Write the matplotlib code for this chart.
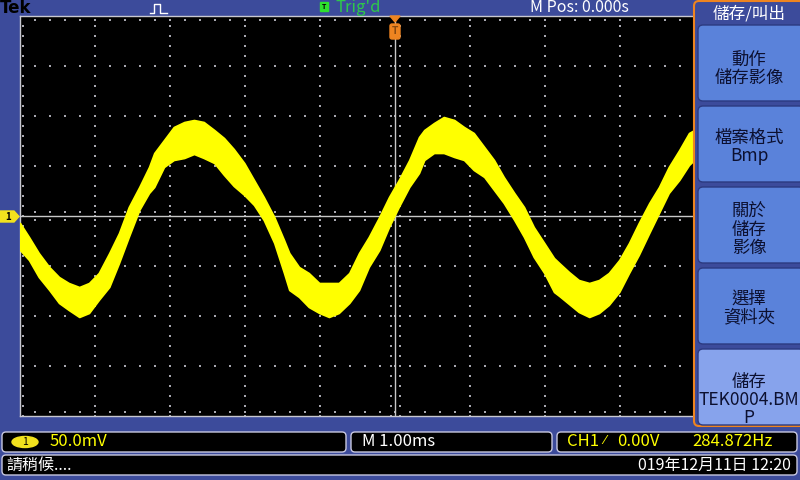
import matplotlib
matplotlib.use("Agg")
import matplotlib.pyplot as plt
from matplotlib.patches import FancyBboxPatch, Polygon, Rectangle, Ellipse
import numpy as np

plt.rcParams['font.family'] = ['Noto Sans CJK TC', 'DejaVu Sans']

# trace band: time (ms) and upper/lower edge (mV)
t_ms = [-5.0, -4.88, -4.75, -4.61, -4.48, -4.35, -4.21, -4.08, -3.95, -3.81,
        -3.68, -3.55, -3.41, -3.28, -3.21, -3.08, -2.95, -2.81, -2.68, -2.55,
        -2.41, -2.28, -2.15, -2.01, -1.88, -1.75, -1.61, -1.48, -1.41, -1.28,
        -1.15, -1.01, -0.88, -0.75, -0.61, -0.48, -0.35, -0.21, -0.08, 0.05,
        0.19, 0.32, 0.39, 0.52, 0.65, 0.79, 0.92, 1.05, 1.19, 1.32,
        1.45, 1.59, 1.72, 1.85, 1.99, 2.12, 2.19, 2.32, 2.45, 2.59,
        2.72, 2.85, 2.99, 3.12, 3.25, 3.39, 3.52, 3.65, 3.79, 3.92, 3.99]
v_top = [-7, -21, -37, -51, -61, -67, -71, -67, -57, -37,
         -17, 9, 29, 49, 63, 76, 89, 94, 96, 94,
         86, 78, 67, 53, 36, 19, -1, -24, -37, -51,
         -57, -67, -67, -67, -57, -37, -21, -1, 19, 36,
         56, 79, 86, 93, 99, 96, 89, 83, 69, 56,
         39, 23, 9, -11, -27, -42, -47, -56, -64, -67,
         -64, -57, -44, -27, -7, 13, 29, 49, 66, 83, 86]
v_bot = [-34, -44, -61, -74, -87, -94, -101, -97, -84, -71,
         -47, -21, 6, 23, 29, 49, 56, 58, 62, 58,
         53, 41, 30, 21, 11, -4, -27, -57, -74, -81,
         -91, -97, -101, -97, -87, -74, -51, -34, -11, 9,
         29, 43, 56, 63, 63, 59, 56, 46, 39, 26,
         13, -4, -21, -41, -57, -76, -80, -88, -96, -101,
         -97, -89, -76, -57, -39, -17, 3, 23, 36, 51, 56]

menu_title = "儲存/叫出"
menu_items = ["動作\n儲存影像", "檔案格式\nBmp", "關於\n儲存\n影像",
              "選擇\n資料夾", "儲存\nTEK0004.BM\nP"]

BG = '#3c4b9b'
GRID = '#a8a8b0'
YEL = '#ffff00'
ORANGE = '#ee8420'

fig = plt.figure(figsize=(8, 4.8), dpi=100, facecolor=BG)

# --- scope graticule: 10 x 8 div, 1 ms/div, 50 mV/div
ax = fig.add_axes([20 / 800, 64 / 480, 750 / 800, 400 / 480])
ax.set_xlim(-5, 5)
ax.set_ylim(-200, 200)
ax.set_facecolor('black')
ax.set_xticks([])
ax.set_yticks([])
for s in ax.spines.values():
    s.set_color('#c8c8d0')
    s.set_linewidth(1)

fine_x = np.arange(-5, 5.01, 0.2)
fine_y = np.arange(-200, 200.1, 10)
for gx in range(-4, 5):
    if gx != 0:
        ax.scatter(np.full(len(fine_y), gx), fine_y, s=1.3, marker='s', color=GRID, lw=0)
for gy in range(-150, 151, 50):
    if gy != 0:
        ax.scatter(fine_x, np.full(len(fine_x), gy), s=1.3, marker='s', color=GRID, lw=0)
# center crosshair with small ticks
ax.axhline(0, color='#c8c8c8', lw=1)
ax.axvline(0, color='#c8c8c8', lw=1)
for off in (-4, 4):
    ax.scatter(fine_x, np.full(len(fine_x), off), s=1.3, marker='s', color=GRID, lw=0)
    ax.scatter(np.full(len(fine_y), off * 0.015), fine_y, s=1.3, marker='s', color=GRID, lw=0)
# edge ticks
ax.scatter(np.full(len(fine_y), -4.96), fine_y, s=1.3, marker='s', color=GRID, lw=0)
ax.scatter(fine_x, np.full(len(fine_x), 196), s=1.3, marker='s', color=GRID, lw=0)
ax.scatter(fine_x, np.full(len(fine_x), -196), s=1.3, marker='s', color=GRID, lw=0)

ax.fill_between(t_ms, v_bot, v_top, color=YEL, lw=1.2, edgecolor=YEL, zorder=4)

# --- screen chrome in pixel coordinates
ui = fig.add_axes([0, 0, 1, 1], zorder=5)
ui.set_xlim(0, 800)
ui.set_ylim(480, 0)
ui.axis('off')

ui.text(0, 8, "Tek", fontsize=12, fontweight='bold', color='black', va='center',
        family=['DejaVu Sans'])
ui.plot([150, 154, 154, 160, 160, 167], [13, 13, 4, 4, 13, 13], color='white', lw=1)
ui.add_patch(Rectangle((320, 2), 8, 9, color='#2ee02e'))
ui.text(324, 6.5, "T", fontsize=5, color='black', ha='center', va='center', fontweight='bold')
ui.text(335, 8, "Trig'd", fontsize=12, color='#2ec84a', va='center')
ui.text(530, 8, "M Pos: 0.000s", fontsize=11.5, color='white', va='center')

# trigger position marker
tx = 395
ui.add_patch(Polygon([(tx - 5, 16), (tx + 5, 16), (tx, 22)], color=ORANGE))
ui.add_patch(FancyBboxPatch((tx - 5, 24), 10, 15, boxstyle='round,pad=0,rounding_size=2',
                            color=ORANGE))
ui.text(tx, 31.5, "T", fontsize=7.5, color='#8a4a10', ha='center', va='center', fontweight='bold')

# channel 1 ground marker
ui.add_patch(Polygon([(0, 211), (14, 211), (19, 216.5), (14, 222), (0, 222)],
                     color='#f2e21e'))
ui.text(8, 216.5, "1", fontsize=7, color='black', ha='center', va='center', fontweight='bold')

# --- side menu
ui.add_patch(FancyBboxPatch((694, 1), 110, 425, boxstyle='round,pad=0,rounding_size=5',
                            fc=BG, ec=ORANGE, lw=1.5))
ui.text(749, 14, menu_title, fontsize=12, color='white', ha='center', va='center')
btn_top = [25, 106, 187, 268, 349]
btn_h = [76, 76, 76, 76, 76]
txt_off = [44, 41, 43, 40, 51]
for i, label in enumerate(menu_items):
    fc = '#87a3ec' if i == len(menu_items) - 1 else '#5a82da'
    ui.add_patch(FancyBboxPatch((698, btn_top[i]), 106, btn_h[i],
                                boxstyle='round,pad=0,rounding_size=5',
                                fc=fc, ec='#2c3a80', lw=1))
    ui.text(749, btn_top[i] + txt_off[i], label, fontsize=12.5, color='#0c1030',
            ha='center', va='center', linespacing=1.0)

# --- bottom readouts
def box(x0, y0, w, h):
    ui.add_patch(FancyBboxPatch((x0, y0), w, h, boxstyle='round,pad=0,rounding_size=4',
                                fc='black', ec='#c8c8e0', lw=1))

box(2, 432, 344, 20)
box(351, 432, 201, 20)
box(557, 432, 240, 20)
box(2, 455, 795, 20)

ui.add_patch(Ellipse((25, 442), 26, 11, color='#f2e21e'))
ui.text(25, 442, "1", fontsize=7.5, color='black', ha='center', va='center')
ui.text(50, 441, "50.0mV", fontsize=12, color=YEL, va='center')
ui.text(362, 441, "M 1.00ms", fontsize=12, color='white', va='center')
ui.text(567, 441, "CH1", fontsize=12, color=YEL, va='center')
ui.text(603, 441, "\u2044", fontsize=9, color=YEL, va='center', family=['DejaVu Sans'])
ui.text(617, 441, "0.00V", fontsize=12, color=YEL, va='center')
ui.text(692, 441, "284.872Hz", fontsize=12, color=YEL, va='center')
ui.text(6, 465, "請稍候....", fontsize=11.5, color='white', va='center')
ui.text(791, 465, "019年12月11日 12:20", fontsize=11.5, color='white', va='center', ha='right')

fig.savefig("out.png", dpi=100, facecolor=BG)
